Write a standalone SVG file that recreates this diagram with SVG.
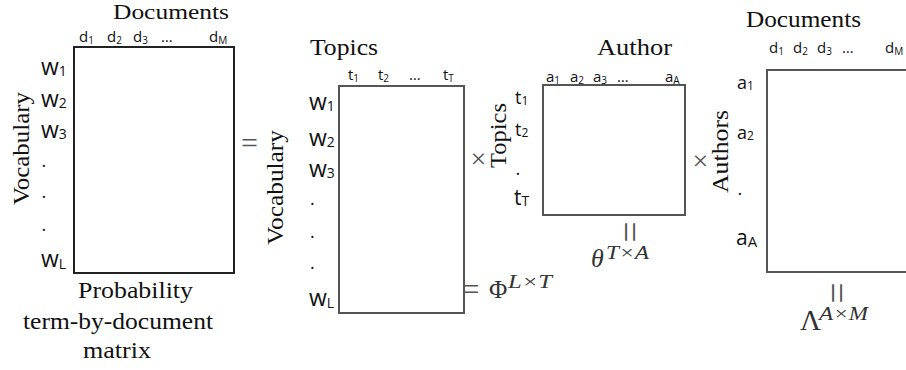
<svg xmlns="http://www.w3.org/2000/svg" width="906" height="370" viewBox="0 0 906 370">
<style>
.bg{fill:#fff}
.box{fill:#fff;stroke:#555;stroke-width:2}
.box1{fill:#fff;stroke:#222;stroke-width:2}
.ser{font-family:"Liberation Serif","Times New Roman",serif;font-size:23px;fill:#111}
.lab{font-family:"Open Sans","Liberation Sans",sans-serif;fill:#111}
.top{font-size:15px}
.sub{font-size:10px}
.w{font-size:23px}
.ws{font-size:14px}
.mid{font-size:18px}
.ms{font-size:12px}
.dot{font-size:18px}
.op{font-family:"Liberation Serif","Times New Roman",serif;fill:#555}
.math{font-family:"Liberation Serif","Times New Roman",serif;fill:#333}
.it{font-style:italic}
</style>
<rect class="bg" x="0" y="0" width="906" height="370"/>

<g id="matrix-documents">
<rect class="box1" x="74" y="47" width="160" height="226"/>
<text class="ser" x="113" y="19" font-size="21" style="font-size:21px" textLength="116" lengthAdjust="spacingAndGlyphs">Documents</text>
<text class="lab top" x="79" y="42">d<tspan class="sub" dy="2">1</tspan></text>
<text class="lab top" x="107" y="42">d<tspan class="sub" dy="2">2</tspan></text>
<text class="lab top" x="133" y="42">d<tspan class="sub" dy="2">3</tspan></text>
<text class="lab top" x="161" y="42">…</text>
<text class="lab top" x="209" y="42">d<tspan class="sub" dy="2">M</tspan></text>
<text class="ser" transform="translate(29,148.5) rotate(-90)" text-anchor="middle" textLength="113" lengthAdjust="spacingAndGlyphs">Vocabulary</text>
<text class="lab w" x="41" y="75">w<tspan class="ws" dy="1">1</tspan></text>
<text class="lab w" x="41" y="107">w<tspan class="ws" dy="1">2</tspan></text>
<text class="lab w" x="41" y="138">w<tspan class="ws" dy="1">3</tspan></text>
<text class="lab dot" x="41.5" y="167">.</text>
<text class="lab dot" x="41.5" y="198">.</text>
<text class="lab dot" x="41.5" y="231">.</text>
<text class="lab w" x="41" y="267">w<tspan class="ws" dy="2">L</tspan></text>
<text class="ser" x="78" y="298" textLength="115" lengthAdjust="spacingAndGlyphs">Probability</text>
<text class="ser" x="23" y="329" textLength="190" lengthAdjust="spacingAndGlyphs">term-by-document</text>
<text class="ser" x="83" y="358" textLength="68" lengthAdjust="spacingAndGlyphs">matrix</text>
</g>

<g id="matrix-phi">
<rect class="box" x="339" y="86" width="125" height="227"/>
<text class="ser" x="310" y="55" textLength="68" lengthAdjust="spacingAndGlyphs">Topics</text>
<text class="lab top" x="348" y="80">t<tspan class="sub" dy="2">1</tspan></text>
<text class="lab top" x="378" y="80">t<tspan class="sub" dy="2">2</tspan></text>
<text class="lab top" x="409" y="80">…</text>
<text class="lab top" x="443" y="80">t<tspan class="sub" dy="2">T</tspan></text>
<text class="ser" transform="translate(283,187.5) rotate(-90)" text-anchor="middle" textLength="115" lengthAdjust="spacingAndGlyphs">Vocabulary</text>
<text class="lab w" x="309" y="110">w<tspan class="ws" dy="1">1</tspan></text>
<text class="lab w" x="309" y="146">w<tspan class="ws" dy="1">2</tspan></text>
<text class="lab w" x="309" y="177">w<tspan class="ws" dy="1">3</tspan></text>
<text class="lab dot" x="310" y="205">.</text>
<text class="lab dot" x="310" y="238">.</text>
<text class="lab dot" x="310" y="269">.</text>
<text class="lab w" x="309" y="306">w<tspan class="ws" dy="2">L</tspan></text>
<text class="math" x="489" y="298" font-size="25">Φ</text>
<text class="math it" x="508" y="288" font-size="18" textLength="44" lengthAdjust="spacingAndGlyphs">L×T</text>
</g>

<g id="matrix-theta">
<rect class="box" x="543" y="85" width="142" height="130"/>
<text class="ser" x="597" y="55" textLength="75" lengthAdjust="spacingAndGlyphs">Author</text>
<text class="lab top" x="546" y="82">a<tspan class="sub" dy="2">1</tspan></text>
<text class="lab top" x="570" y="82">a<tspan class="sub" dy="2">2</tspan></text>
<text class="lab top" x="593" y="82">a<tspan class="sub" dy="2">3</tspan></text>
<text class="lab top" x="617" y="82">…</text>
<text class="lab top" x="665" y="82">a<tspan class="sub" dy="2">A</tspan></text>
<text class="ser" transform="translate(506,135.5) rotate(-90)" text-anchor="middle" textLength="65" lengthAdjust="spacingAndGlyphs">Topics</text>
<text class="lab mid" x="515" y="104">t<tspan class="ms" dy="1">1</tspan></text>
<text class="lab mid" x="515" y="136">t<tspan class="ms" dy="1">2</tspan></text>
<text class="lab dot" x="515.5" y="175">.</text>
<text class="lab" font-size="21" x="514" y="205">t<tspan font-size="14" dy="1">T</tspan></text>
<text class="op" transform="translate(627,232) rotate(90)" text-anchor="middle" y="10" font-size="38">=</text>
<text class="math it" x="591" y="267" font-size="26">θ</text>
<text class="math it" x="606" y="259" font-size="18" textLength="43" lengthAdjust="spacingAndGlyphs">T×A</text>
</g>

<g id="matrix-lambda">
<rect class="box" x="767" y="70" width="150" height="202"/>
<text class="ser" x="746" y="27" textLength="115" lengthAdjust="spacingAndGlyphs">Documents</text>
<text class="lab top" x="769" y="53">d<tspan class="sub" dy="2">1</tspan></text>
<text class="lab top" x="793" y="53">d<tspan class="sub" dy="2">2</tspan></text>
<text class="lab top" x="817" y="53">d<tspan class="sub" dy="2">3</tspan></text>
<text class="lab top" x="842" y="53">…</text>
<text class="lab top" x="885" y="53">d<tspan class="sub" dy="2">M</tspan></text>
<text class="ser" transform="translate(728,151.5) rotate(-90)" text-anchor="middle" textLength="83" lengthAdjust="spacingAndGlyphs">Authors</text>
<text class="lab mid" x="737" y="89">a<tspan class="ms" dy="1">1</tspan></text>
<text class="lab mid" x="737" y="139">a<tspan class="ms" dy="1">2</tspan></text>
<text class="lab dot" x="737.5" y="195">.</text>
<text class="lab" font-size="21" x="736" y="245">a<tspan font-size="15" dy="2">A</tspan></text>
<text class="op" transform="translate(834,293) rotate(90)" text-anchor="middle" y="10" font-size="38">=</text>
<text class="math" x="800" y="330" font-size="29">Λ</text>
<text class="math it" x="819" y="320" font-size="18" textLength="49" lengthAdjust="spacingAndGlyphs">A×M</text>
</g>

<g id="connectors">
<text class="op" x="241" y="153" font-size="30">=</text>
<text class="op" x="462" y="300" font-size="31">=</text>
<text class="op" x="478.5" y="168" font-size="28" text-anchor="middle">×</text>
<text class="op" x="700.5" y="170" font-size="28" text-anchor="middle">×</text>
</g>
</svg>
